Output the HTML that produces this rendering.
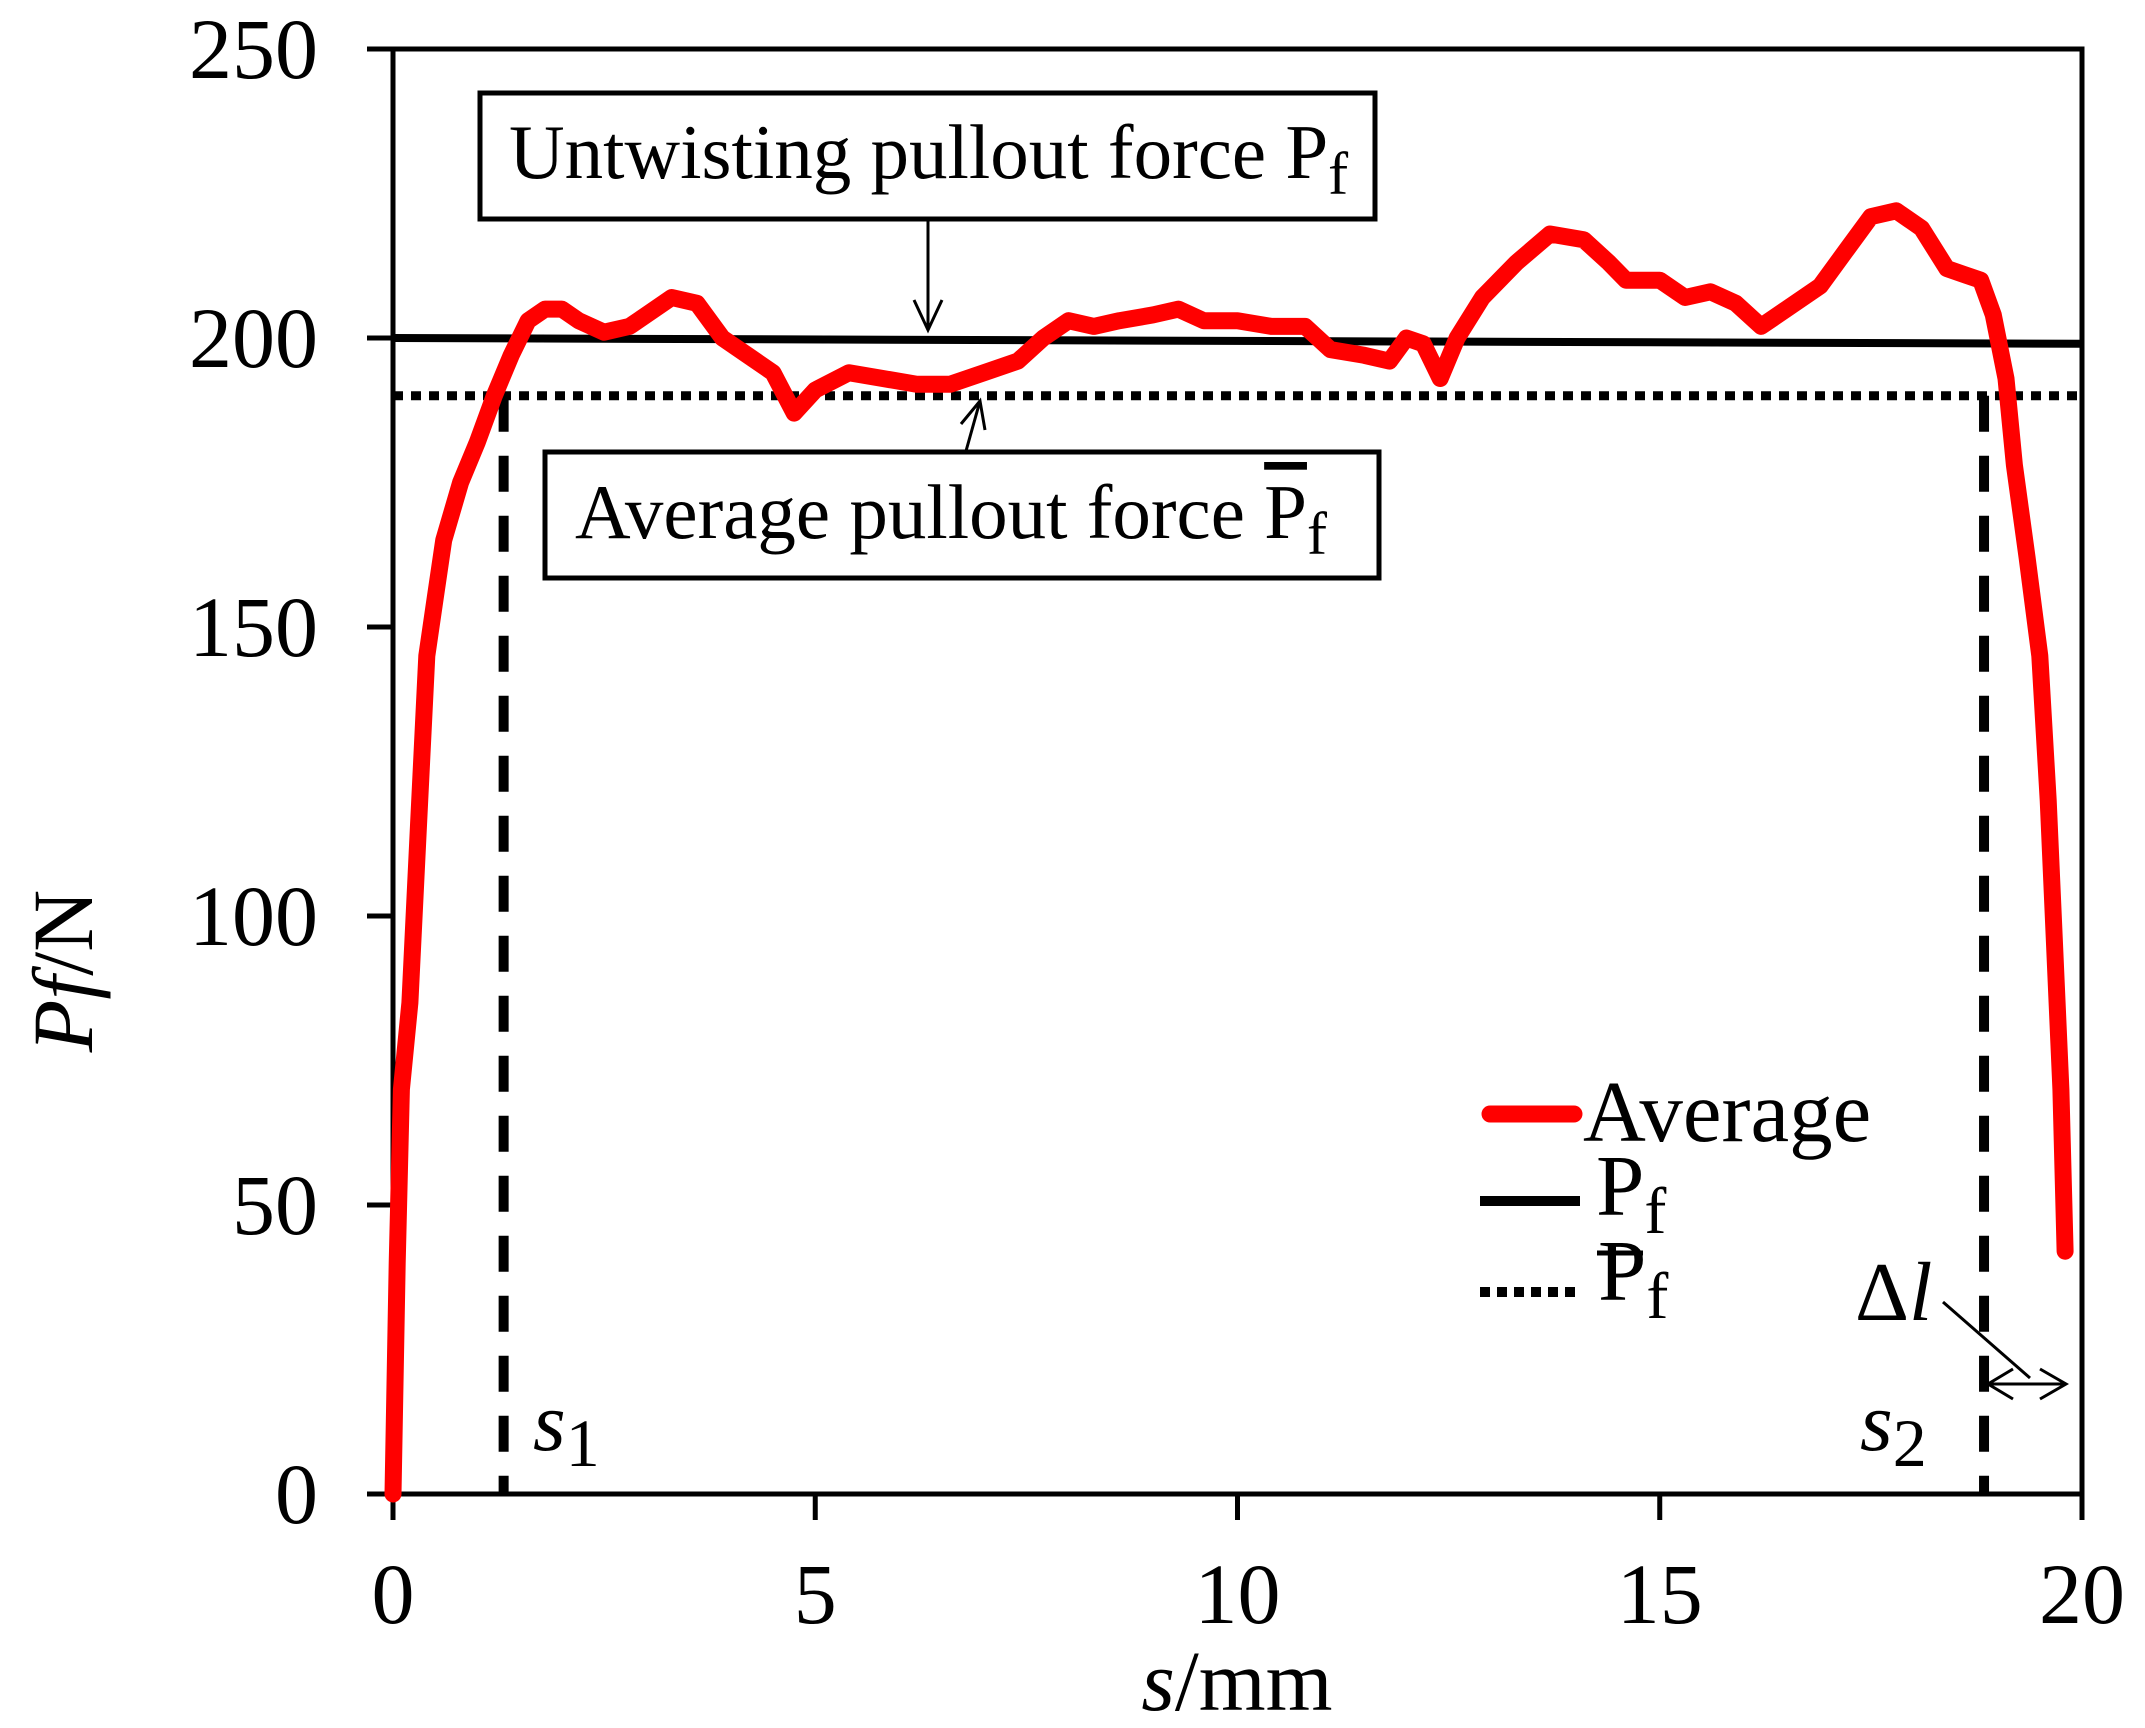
<!DOCTYPE html>
<html><head><meta charset="utf-8"><style>
html,body{margin:0;padding:0;background:#fff}
svg{display:block}
text{font-family:"Liberation Serif",serif;fill:#000}
</style></head><body>
<svg id="chart" width="2145" height="1728" viewBox="0 0 2145 1728">
<g id="axes"></g>
<g id="marks"></g>
<g id="annot">
  <rect x="480" y="93" width="895" height="126" fill="#fff" stroke="#000" stroke-width="5"/>
  <text x="509" y="178" font-size="77">Untwisting pullout force P<tspan font-size="60" dy="16">f</tspan></text>
  <rect x="545" y="452" width="834" height="126" fill="#fff" stroke="#000" stroke-width="5"/>
  <text x="575" y="538" font-size="77">Average pullout force <tspan text-decoration="overline">P</tspan><tspan font-size="60" dy="16">f</tspan></text>
  <line x1="928" y1="219" x2="928" y2="330" stroke="#000" stroke-width="3"/>
  <polyline points="914,300 928,330 942,300" fill="none" stroke="#000" stroke-width="3"/>
  <line x1="966" y1="451" x2="980" y2="401" stroke="#000" stroke-width="3"/>
  <polyline points="961,424 980,401 985,430" fill="none" stroke="#000" stroke-width="3"/>
  <text x="533" y="1450" font-size="84" font-style="italic">s<tspan font-style="normal" font-size="68" dy="16">1</tspan></text>
  <text x="1860" y="1450" font-size="84" font-style="italic">s<tspan font-style="normal" font-size="68" dy="16">2</tspan></text>
  <text x="1855" y="1320" font-size="84">Δ<tspan font-style="italic">l</tspan></text>
  <line x1="1943" y1="1302" x2="2030" y2="1378" stroke="#000" stroke-width="3"/>
  <line x1="1988" y1="1384" x2="2066" y2="1384" stroke="#000" stroke-width="3"/>
  <polyline points="2013,1369 1988,1384 2013,1399" fill="none" stroke="#000" stroke-width="3"/>
  <polyline points="2040,1369 2066,1384 2040,1399" fill="none" stroke="#000" stroke-width="3"/>
</g>
<g id="legend">
  <line x1="1490" y1="1114" x2="1574" y2="1114" stroke="#f00" stroke-width="17" stroke-linecap="round"/>
  <text x="1583" y="1141" font-size="87">Average</text>
  <line x1="1480" y1="1201" x2="1580" y2="1201" stroke="#000" stroke-width="10"/>
  <text x="1596" y="1215" font-size="87">P<tspan font-size="66" dy="18">f</tspan></text>
  <line x1="1480" y1="1292" x2="1580" y2="1292" stroke="#000" stroke-width="10" stroke-dasharray="10,7"/>
  <text x="1598" y="1300" font-size="87">P<tspan font-size="66" dy="18">f</tspan></text>
  <line x1="1597" y1="1253" x2="1643" y2="1253" stroke="#000" stroke-width="5"/>
</g>
</svg>
<script>
const xTicks=[0,5,10,15,20];
const yTicks=[0,50,100,150,200,250];
const sVals=[0,0.05,0.1,0.2,0.3,0.4,0.5,0.6,0.8,1.0,1.2,1.4,1.6,1.8,2.0,2.2,2.5,2.8,3.0,3.3,3.6,3.9,4.2,4.5,4.75,5.0,5.4,5.8,6.2,6.6,7.0,7.4,7.7,8.0,8.3,8.6,9.0,9.3,9.6,10.0,10.4,10.8,11.1,11.5,11.8,12.0,12.2,12.4,12.6,12.9,13.3,13.7,14.1,14.4,14.6,15.0,15.3,15.6,15.9,16.2,16.5,16.9,17.2,17.5,17.8,18.1,18.4,18.6,18.8,18.95,19.1,19.2,19.35,19.5,19.6,19.75,19.8];
const pVals=[0,40,70,85,115,145,155,165,175,182,190,197,203,205,205,203,201,202,204,207,206,200,197,194,187,191,194,193,192,192,194,196,200,203,202,203,204,205,203,203,202,202,198,197,196,200,199,193,200,207,213,218,217,213,210,210,207,208,206,202,205,209,215,221,222,219,212,211,210,204,193,178,162,145,120,70,42];
const pfLine=[200,199];
const pfAvg=[190];
const sMarks=[1.31,18.84];

const L=393,R=2082,T=49,B=1494;
const X=v=>L+(v-0)/20*(R-L);
const Y=v=>B-(v-0)/250*(B-T);
const NS='http://www.w3.org/2000/svg';
const axes=document.getElementById('axes'), marks=document.getElementById('marks');
function mk(tag,attrs,parent){const e=document.createElementNS(NS,tag);for(const k in attrs)e.setAttribute(k,attrs[k]);parent.appendChild(e);return e;}

let f=mk('rect',{x:L,y:T,width:R-L,height:B-T,fill:'none',stroke:'#000','stroke-width':5},axes);


xTicks.forEach(v=>{
  const t=mk('line',{x1:X(v),x2:X(v),y1:B,y2:B+26,stroke:'#000','stroke-width':5},axes);
  
  
  const l=mk('text',{x:X(v),y:1623,'font-size':86,'text-anchor':'middle'},axes);l.textContent=v;
  
  
});
yTicks.forEach(v=>{
  const t=mk('line',{x1:L-26,x2:L,y1:Y(v),y2:Y(v),stroke:'#000','stroke-width':5},axes);
  
  
  const l=mk('text',{x:318,y:Y(v)+29,'font-size':86,'text-anchor':'end'},axes);l.textContent=v;
  
  
});
let xt=mk('text',{x:1237,y:1710,'font-size':86,'text-anchor':'middle'},axes);
xt.innerHTML='<tspan font-style="italic">s</tspan>/mm';


let yt=mk('text',{x:0,y:0,'font-size':86,'text-anchor':'middle',transform:'translate(92,971) rotate(-90)'},axes);
yt.innerHTML='<tspan font-style="italic">Pf</tspan>/N';



sMarks.forEach((s,i)=>{
  const d=mk('line',{x1:X(s),x2:X(s),y1:Y(pfAvg[0]),y2:B,stroke:'#000','stroke-width':10,'stroke-dasharray':'36,24'},marks);
  
  
});
let av=mk('line',{x1:L,x2:R,y1:Y(pfAvg[0]),y2:Y(pfAvg[0]),stroke:'#000','stroke-width':9,'stroke-dasharray':'10,8'},marks);


let pl=mk('line',{x1:L,x2:R,y1:Y(pfLine[0]),y2:Y(pfLine[1]),stroke:'#000','stroke-width':8},marks);


let pts=sVals.map((s,i)=>X(s).toFixed(1)+','+Y(pVals[i]).toFixed(1)).join(' ');
let rc=mk('polyline',{points:pts,fill:'none',stroke:'#f00','stroke-width':17,'stroke-linejoin':'round','stroke-linecap':'round'},marks);


</script>
</body></html>
